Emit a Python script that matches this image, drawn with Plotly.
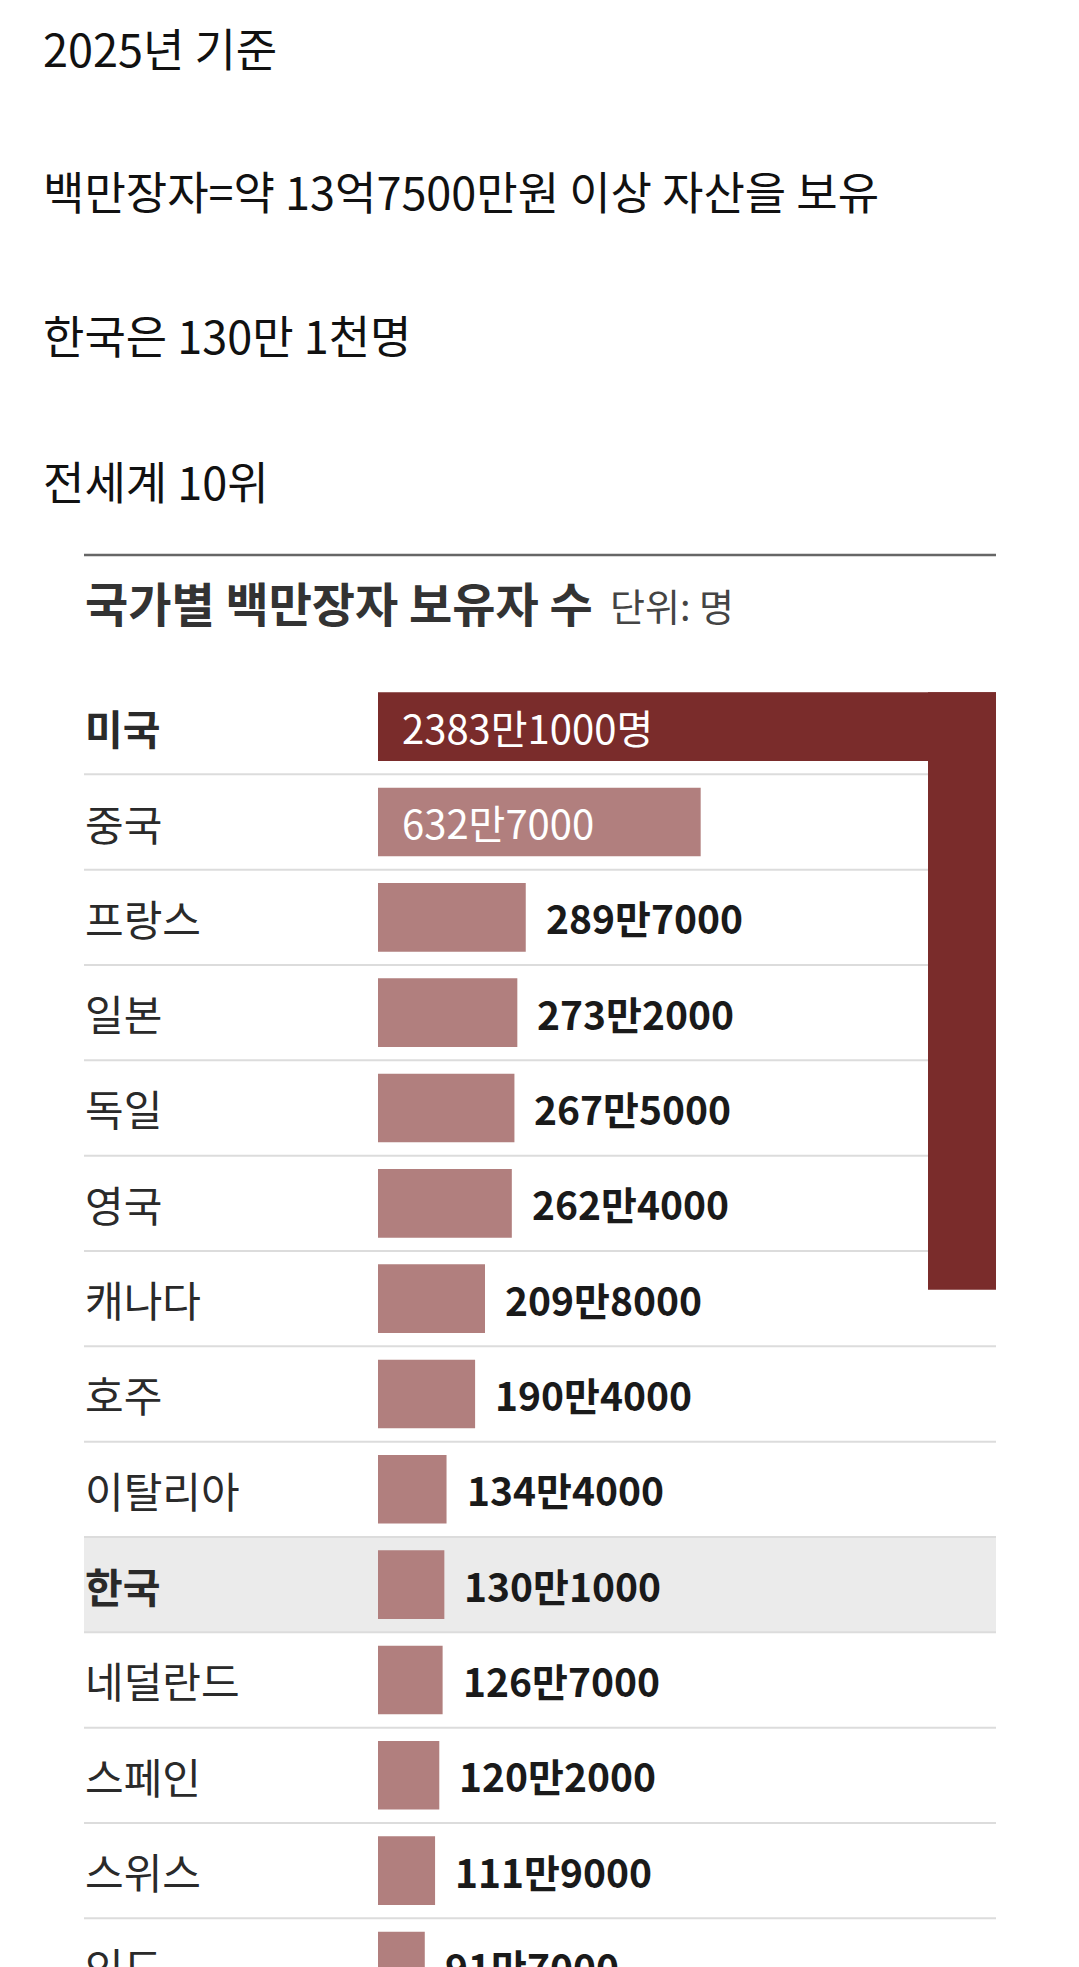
import plotly.graph_objects as go

# ---------------- data ----------------
countries = ["미국", "중국", "프랑스", "일본", "독일", "영국", "캐나다", "호주",
             "이탈리아", "한국", "네덜란드", "스페인", "스위스", "인도"]
millionaires = [23831000, 6327000, 2897000, 2732000, 2675000, 2624000, 2098000,
                1904000, 1344000, 1301000, 1267000, 1202000, 1119000, 917000]
bold_countries = ["미국", "한국"]
highlight_country = "한국"
intro_lines = ["2025년 기준", "백만장자=약 13억7500만원 이상 자산을 보유",
               "한국은 130만 1천명", "전세계 10위"]
chart_title = "국가별 백만장자 보유자 수"
unit_note = "단위: 명"

# ---------------- layout constants (px) ----------------
W, H = 1079, 1967
TOP = 679
PLOT_H = H - TOP
X0_PX, X1_PX, BAR0_PX = 84, 996, 378
VBAR_X0_PX = 928
PX_PER_MAN = 0.51
ROW_PITCH = 95.33
BAR_W = 0.72

KR = "Noto Sans CJK KR"
NUM = "Noto Sans CJK KR"
C_TOP = "#7a2c2b"
C_BAR = "#b17f7e"
C_HL = "#ebebeb"
C_SEP = "#dcdcdc"

vals_man = [v / 10000 for v in millionaires]
x_left = -(BAR0_PX - X0_PX) / PX_PER_MAN
x_right = (X1_PX - BAR0_PX) / PX_PER_MAN
y_bottom = -0.5 + PLOT_H / ROW_PITCH


def py(px):
    return (H - px) / PLOT_H


def pxx(px):
    return px / W


def fmt(v, suffix=""):
    man, rest = divmod(v, 10000)
    return f"{man}만{rest}{suffix}"


colors = [C_TOP if v > x_right else C_BAR for v in vals_man]

fig = go.Figure()
fig.add_trace(go.Bar(
    y=countries, x=vals_man, orientation="h", width=BAR_W,
    marker=dict(color=colors, line=dict(width=0)),
    hoverinfo="skip", xaxis="x", yaxis="y",
))

# overflow of bars longer than the row: folded downwards on the right
over_names = [c for c, v in zip(countries, vals_man) if v > x_right]
over_vals = [v - x_right for v in vals_man if v > x_right]
fig.add_trace(go.Bar(
    x=over_names, y=over_vals, base=0, width=1,
    marker=dict(color=C_TOP, line=dict(width=0)),
    hoverinfo="skip", xaxis="x2", yaxis="y2",
))

bar_top_px = TOP + (0.5 - BAR_W / 2) * ROW_PITCH
y2_top = -(bar_top_px - TOP) / PX_PER_MAN
y2_bot = (H - bar_top_px) / PX_PER_MAN

shapes = []
hi = countries.index(highlight_country)
shapes.append(dict(type="rect", xref="paper", yref="y", layer="below",
                   x0=pxx(X0_PX), x1=pxx(X1_PX), y0=hi - 0.5, y1=hi + 0.5,
                   fillcolor=C_HL, line=dict(width=0)))
for i in range(len(countries) - 1):
    shapes.append(dict(type="line", xref="paper", yref="y", layer="below",
                       x0=pxx(X0_PX), x1=pxx(X1_PX), y0=i + 0.5, y1=i + 0.5,
                       line=dict(color=C_SEP, width=2)))
shapes.append(dict(type="line", xref="paper", yref="paper",
                   x0=pxx(X0_PX), x1=pxx(X1_PX), y0=py(555), y1=py(555),
                   line=dict(color="#666666", width=2.5)))

ann = []
for txt, ypx in zip(intro_lines, [47, 190, 334, 480]):
    ann.append(dict(text=txt, xref="paper", yref="paper", x=pxx(41), y=py(ypx),
                    xanchor="left", yanchor="middle", showarrow=False,
                    font=dict(family=KR, size=45, color="#111111")))
ann.append(dict(text=f"<b>{chart_title}</b>", xref="paper", yref="paper",
                x=pxx(83), y=py(601), xanchor="left", yanchor="middle",
                showarrow=False, font=dict(family=KR, size=47, color="#333333")))
ann.append(dict(text=unit_note, xref="paper", yref="paper",
                x=pxx(608), y=py(604), xanchor="left", yanchor="middle",
                showarrow=False, font=dict(family=KR, size=38, color="#444444")))

for i, (c, v, vm) in enumerate(zip(countries, millionaires, vals_man)):
    is_bold = c in bold_countries
    label = f"<b>{c}</b>" if is_bold else c
    ann.append(dict(text=label, xref="paper", yref="y", x=pxx(83), y=c,
                    xanchor="left", yanchor="middle", showarrow=False,
                    font=dict(family=KR, size=41 if is_bold else 42,
                              color="#2a2a2a")))
    inside = vm * PX_PER_MAN > 200
    txt = fmt(v, "명" if vm > x_right else "")
    if inside:
        ann.append(dict(text=txt, xref="x", yref="y", x=0, y=c, xshift=22,
                        xanchor="left", yanchor="middle", showarrow=False,
                        font=dict(family=NUM, size=40, color="#ffffff")))
    else:
        ann.append(dict(text=f"<b>{txt}</b>", xref="x", yref="y", x=vm, y=c,
                        xshift=18, xanchor="left", yanchor="middle",
                        showarrow=False,
                        font=dict(family=NUM, size=39, color="#1a1a1a")))

fig.update_layout(
    width=W, height=H, autosize=False,
    margin=dict(l=0, r=0, t=TOP, b=0, pad=0),
    paper_bgcolor="white", plot_bgcolor="rgba(0,0,0,0)",
    showlegend=False, barmode="overlay",
    xaxis=dict(domain=[pxx(X0_PX), pxx(X1_PX)], range=[x_left, x_right],
               visible=False, fixedrange=True),
    yaxis=dict(type="category", categoryorder="array", categoryarray=countries,
               range=[y_bottom, -0.5], visible=False, fixedrange=True),
    xaxis2=dict(domain=[pxx(VBAR_X0_PX), pxx(X1_PX)], range=[-0.5, 0.5],
                anchor="y2", visible=False, fixedrange=True),
    yaxis2=dict(domain=[0, 1], range=[y2_bot, y2_top], anchor="x2",
                visible=False, fixedrange=True),
    shapes=shapes, annotations=ann,
)

fig.write_html("out.html", config={"displayModeBar": False})
